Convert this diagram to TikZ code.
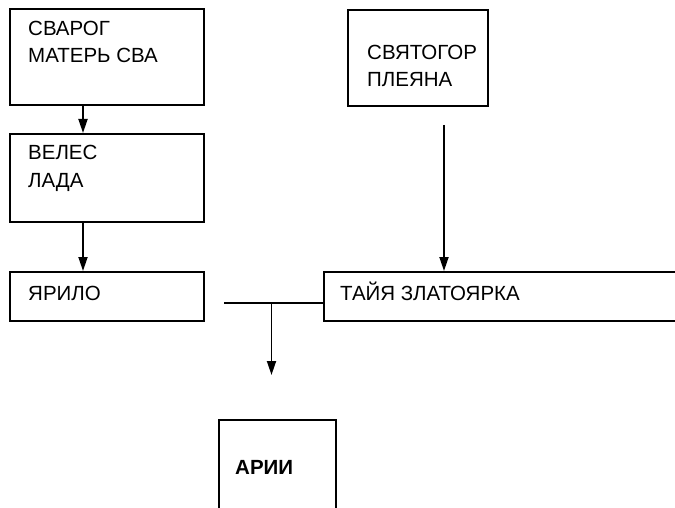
\documentclass[tikz,border=0pt]{standalone}
\usepackage{fontspec}
\setmainfont{Liberation Sans}
\usetikzlibrary{arrows.meta}
\begin{document}
\begin{tikzpicture}[x=1pt,y=-1pt,
  box/.style={draw, line width=2pt, rectangle, anchor=north west, inner sep=0pt},
  txt/.style={anchor=base west, inner sep=0pt, font=\fontsize{20.5}{27}\selectfont},
  conn/.style={line width=1.8pt},
  arr/.style={conn, -{Triangle[length=14pt,width=9pt]}}]
\clip (0,0) rectangle (675,508);
\fill[white] (0,0) rectangle (675,508);
% boxes
\node[box, minimum width=194pt, minimum height=96pt] (svarog) at (9,8) {};
\node[box, minimum width=194pt, minimum height=88pt] (veles) at (9,133) {};
\node[box, minimum width=140pt, minimum height=96pt] (svyatogor) at (347,9) {};
\node[box, minimum width=194pt, minimum height=49pt] (yarilo) at (9,271) {};
\node[box, minimum width=380pt, minimum height=49pt] (taya) at (323,271) {};
\node[box, minimum width=117pt, minimum height=120pt] (arii) at (218,419) {};
% texts
\node[txt] (t1) at (28,36) {СВАРОГ};
\node[txt] (t2) at (28,63) {МАТЕРЬ СВА};
\node[txt] (t3) at (28,160) {ВЕЛЕС};
\node[txt] (t4) at (28,187) {ЛАДА};
\node[txt] (t5) at (367,60) {СВЯТОГОР};
\node[txt] (t6) at (367,87) {ПЛЕЯНА};
\node[txt] (t7) at (28,300) {ЯРИЛО};
\node[txt] (t8) at (340,300) {ТАЙЯ ЗЛАТОЯРКА};
\node[txt, font=\fontsize{20.5}{27}\selectfont\bfseries] (t9) at (235,474) {АРИИ};
% connectors
\draw[arr] ([xshift=74pt]svarog.south west) -- ([xshift=74pt]veles.north west);
\draw[arr] ([xshift=74pt]veles.south west) -- ([xshift=74pt]yarilo.north west);
\coordinate (sv) at (444,125);
\draw[arr] (sv) -- (sv |- taya.north);
\coordinate (jl) at (224,302.7);
\coordinate (j) at (271.5,302.7);
\coordinate (ae) at (271.5,375);
\draw[conn] (jl) -- (jl -| taya.west);
\draw[arr] (j) -- (ae);
\end{tikzpicture}
\end{document}
